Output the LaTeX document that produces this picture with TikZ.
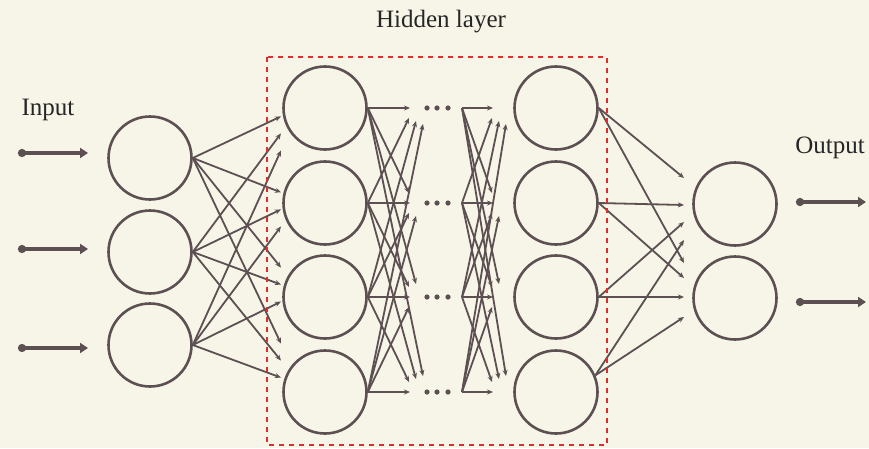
\documentclass[tikz,border=0pt]{standalone}
\usepackage{fontspec}
\setmainfont{Liberation Serif}
\usetikzlibrary{arrows.meta}
\definecolor{ink}{RGB}{92,80,82}
\definecolor{paper}{RGB}{247,244,232}
\definecolor{boxred}{RGB}{222,45,45}

\begin{document}
\begin{tikzpicture}[x=1pt, y=-1pt, >={Stealth[length=6pt,width=5pt]},
    neuron/.style={circle, draw=ink, line width=2.6pt, minimum size=83pt, inner sep=0pt},
    conn/.style={draw=ink, line width=1.8pt, ->},
    ioarrow/.style={draw=ink, line width=3.5pt, {Circle[length=8pt,width=8pt]}-{Triangle[length=8pt,width=10pt]}},
    lbl/.style={font=\fontsize{25}{29}\selectfont, text=black!85}]
    \fill[paper] (0,0) rectangle (869,448);
    \useasboundingbox (0,0) rectangle (869,448);

    % neurons
    \foreach \i/\y in {1/158, 2/252, 3/345}
        \node[neuron] (in\i) at (150,\y) {};
    \foreach \i/\y in {1/108, 2/203, 3/297, 4/392} {
        \node[neuron] (a\i) at (325,\y) {};
        \node[neuron] (b\i) at (556,\y) {};
        \coordinate (c\i) at (462,\y);
        \foreach \x in {427,437,448}
            \fill[ink] (\x,\y) circle (2.6pt);
    }
    \foreach \i/\y in {1/204, 2/298}
        \node[neuron] (o\i) at (735,\y) {};

    % input -> first hidden column
    \foreach \i in {1,2,3}
        \foreach \k/\y in {1/108, 2/203, 3/297, 4/392} {
            \pgfmathsetmacro\ty{0.8*\y+47+(\i-2)*17}
            \coordinate (p\i\k) at (281,\ty);
            \draw[conn] (in\i.east) -- (p\i\k);
        }

    % fan-out inside the hidden layer
    \foreach \j in {1,...,4}
        \foreach \i/\y in {1/108, 2/203, 3/297, 4/392} {
            \pgfmathsetmacro\d{abs(\j-\i)}
            \pgfmathsetmacro\ex{ifthenelse(\d==0,410,402+7*\d)}
            \pgfmathsetmacro\ey{\y+(\j-\i)*3+sign(\j-\i)*7}
            \coordinate (l\j\i) at (\ex,\ey);
            \coordinate (r\j\i) at (\ex+83,\ey);
            \draw[conn] (a\j.east) -- (l\j\i);
            \draw[conn] (c\j) -- (r\j\i);
        }

    % last hidden column -> output
    \foreach \j/\an/\ya/\yb in {1/0/178/263, 2/0/205/278, 3/0/222/297, 4/23/240/317} {
        \coordinate (q\j1) at (684,\ya);
        \coordinate (q\j2) at (684,\yb);
        \draw[conn] (b\j.\an) -- (q\j1);
        \draw[conn] (b\j.\an) -- (q\j2);
    }

    % input and output arrows
    \foreach \i/\y in {1/153, 2/249, 3/348} {
        \coordinate (s\i) at (18,\y);
        \coordinate (t\i) at (88,\y);
        \draw[ioarrow] (s\i) -- (t\i);
    }
    \foreach \i/\y in {1/202, 2/302} {
        \coordinate (u\i) at (796,\y);
        \coordinate (v\i) at (866,\y);
        \draw[ioarrow] (u\i) -- (v\i);
    }

    \draw[boxred, line width=1.6pt, dash pattern=on 5pt off 5pt] (267,57) rectangle (607,445);

    \node[lbl] (hid) at (441,22) {Hidden layer};
    \node[lbl] (inp) at (48,110) {Input};
    \node[lbl] (outp) at (830,148) {Output};
\end{tikzpicture}
\end{document}
